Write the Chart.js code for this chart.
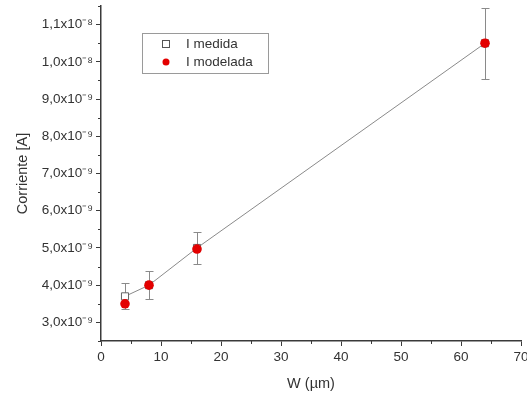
<!DOCTYPE html>
<html>
<head>
<meta charset="utf-8">
<script src="https://cdn.jsdelivr.net/npm/chart.js@4.4.1/dist/chart.umd.min.js"></script>
<style>
  html, body { margin: 0; padding: 0; background: #fff; }
  #wrap { width: 527px; height: 403px; position: relative; }
</style>
</head>
<body>
<div id="wrap"><canvas id="chart"></canvas></div>
<script>
// datos
const anchos = [4, 8, 16, 64];                        // W (µm)
const iMedida = [3.7e-9, 4.0e-9, 5.0e-9, 1.05e-8];    // I medida [A]
const iError = [0.35e-9, 0.38e-9, 0.44e-9, 0.95e-9];  // barras de error
const iModelada = [3.5e-9, 4.0e-9, 4.97e-9, 1.05e-8]; // I modelada [A]
const yTicks = [3e-9, 4e-9, 5e-9, 6e-9, 7e-9, 8e-9, 9e-9, 1.0e-8, 1.1e-8];
const xTicks = [0, 10, 20, 30, 40, 50, 60, 70];

const sup = { '-': '\u207B', '0': '\u2070', '1': '\u00B9', '2': '\u00B2', '3': '\u00B3', '4': '\u2074',
              '5': '\u2075', '6': '\u2076', '7': '\u2077', '8': '\u2078', '9': '\u2079' };

function labelY(v) {
    const exp = Math.floor(Math.log10(v) + 1e-9);
    const mant = (v / Math.pow(10, exp)).toFixed(1).replace('.', ',');
    return mant + 'x10' + String(exp).split('').map(c => sup[c]).join('');
}

const AXIS = '#3a3a3a';
const FONT = "'Liberation Sans', Arial, sans-serif";

// barras de error sobre los puntos medidos
const errorBars = {
    id: 'errorBars',
    beforeDatasetsDraw(chart) {
        const { ctx, scales: { x, y } } = chart;
        ctx.save();
        ctx.strokeStyle = '#8a8a8a';
        ctx.lineWidth = 1;
        anchos.forEach((w, i) => {
            const px = Math.round(x.getPixelForValue(w)) + 0.5;
            const top = Math.round(y.getPixelForValue(iMedida[i] + iError[i])) + 0.5;
            const bot = Math.round(y.getPixelForValue(iMedida[i] - iError[i])) + 0.5;
            ctx.beginPath();
            ctx.moveTo(px, top); ctx.lineTo(px, bot);
            ctx.moveTo(px - 4, top); ctx.lineTo(px + 4, top);
            ctx.moveTo(px - 4, bot); ctx.lineTo(px + 4, bot);
            ctx.stroke();
        });
        ctx.restore();
    }
};

// marcas menores y leyenda
const extras = {
    id: 'extras',
    afterDraw(chart) {
        const { ctx, scales: { x, y } } = chart;
        ctx.save();
        ctx.strokeStyle = AXIS;
        ctx.lineWidth = 1;
        for (let v = 5; v < 70; v += 10) {
            const px = Math.round(x.getPixelForValue(v)) + 0.5;
            ctx.beginPath(); ctx.moveTo(px, y.bottom); ctx.lineTo(px, y.bottom + 3); ctx.stroke();
        }
        for (let v = 2.5e-9; v < 1.16e-8; v += 1e-9) {
            const py = Math.round(y.getPixelForValue(v)) + 0.5;
            ctx.beginPath(); ctx.moveTo(x.left, py); ctx.lineTo(x.left - 3, py); ctx.stroke();
        }
        // leyenda
        ctx.strokeStyle = '#9a9a9a';
        ctx.strokeRect(142.5, 33.5, 126, 40);
        ctx.fillStyle = '#fff';
        ctx.strokeStyle = '#555';
        ctx.fillRect(162, 40, 8, 8);
        ctx.strokeRect(162.5, 40.5, 7, 7);
        ctx.fillStyle = '#e30000';
        ctx.beginPath(); ctx.arc(166, 62, 3.5, 0, Math.PI * 2); ctx.fill();
        ctx.fillStyle = '#333';
        ctx.font = '13.5px ' + FONT;
        ctx.textBaseline = 'middle';
        ctx.fillText(chart.data.datasets[1].label, 186, 44);
        ctx.fillText(chart.data.datasets[0].label, 186, 62);
        ctx.restore();
    }
};

new Chart(document.getElementById('chart'), {
    type: 'scatter',
    data: {
        datasets: [
            {
                label: 'I modelada',
                data: anchos.map((w, i) => ({ x: w, y: iModelada[i] })),
                pointStyle: 'circle',
                pointRadius: 4.8,
                backgroundColor: '#e30000',
                borderColor: '#e30000',
                borderWidth: 0,
                order: 0
            },
            {
                label: 'I medida',
                data: anchos.map((w, i) => ({ x: w, y: iMedida[i] })),
                showLine: true,
                borderColor: '#8a8a8a',
                borderWidth: 1,
                pointStyle: 'rect',
                pointRadius: 5,
                pointBackgroundColor: '#fff',
                pointBorderColor: '#666',
                pointBorderWidth: 1,
                order: 1
            }
        ]
    },
    options: {
        responsive: true,
        maintainAspectRatio: false,
        animation: false,
        layout: { padding: { left: 14, top: 6, right: 5, bottom: 10 } },
        plugins: { legend: { display: false }, tooltip: { enabled: false } },
        scales: {
            x: {
                type: 'linear', min: 0, max: 70,
                afterBuildTicks: s => { s.ticks = xTicks.map(v => ({ value: v })); },
                afterFit: s => { s.height = 52; s.paddingLeft = 0; s.paddingRight = 0; },
                grid: { drawOnChartArea: false, tickLength: 5, color: AXIS },
                border: { color: AXIS, width: 1.5 },
                ticks: { color: '#333', font: { family: FONT, size: 13.5 }, padding: 3, maxRotation: 0 },
                title: { display: true, text: 'W (\u00B5m)', color: '#333', font: { family: FONT, size: 14.5 }, padding: 0 }
            },
            y: {
                type: 'linear', min: 2.5e-9, max: 1.15e-8,
                afterBuildTicks: s => { s.ticks = yTicks.map(v => ({ value: v })); },
                afterFit: s => { s.width = 87; s.paddingTop = 0; s.paddingBottom = 0; },
                grid: { drawOnChartArea: false, tickLength: 5, color: AXIS },
                border: { color: AXIS, width: 1.5 },
                ticks: { color: '#333', font: { family: FONT, size: 13.5 }, padding: 3, callback: v => labelY(v) },
                title: { display: true, text: 'Corriente [A]', color: '#333', font: { family: FONT, size: 14.5 }, padding: 0 }
            }
        }
    },
    plugins: [errorBars, extras]
});
</script>
</body>
</html>
